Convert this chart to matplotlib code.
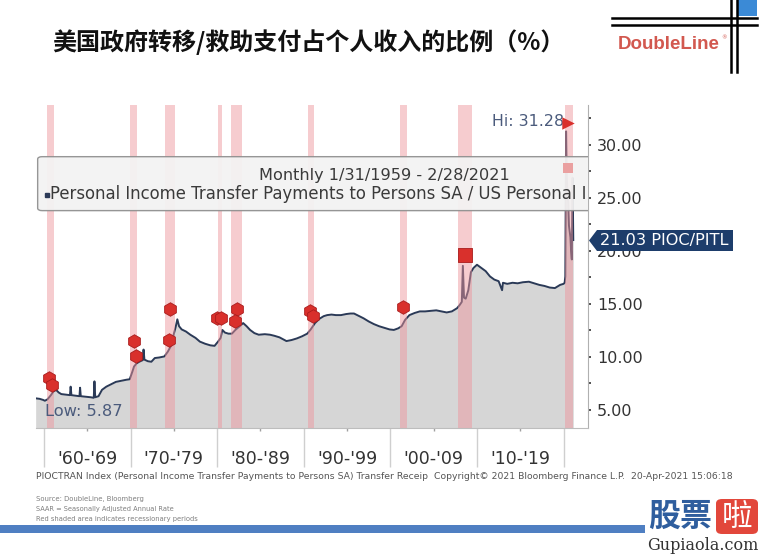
import matplotlib
matplotlib.use('Agg')
import matplotlib.pyplot as plt
import numpy as np
from matplotlib.patches import FancyBboxPatch, Rectangle, Polygon
from matplotlib.lines import Line2D

# ---------------- data ----------------
years = [1959.04, 1959.5, 1959.9, 1960.1, 1960.4, 1960.8, 1961.1, 1961.4, 1961.7, 1962.0,
         1962.5, 1963.0, 1963.08, 1963.17, 1963.6, 1964.1, 1964.17, 1964.25, 1964.8, 1965.4,
         1965.75, 1965.83, 1965.92, 1966.3, 1966.7, 1967.2, 1967.7, 1968.3, 1968.9, 1969.5,
         1969.9, 1970.2, 1970.4, 1970.7, 1971.0, 1971.4, 1971.5, 1971.6, 1972.0, 1972.4,
         1972.8, 1973.3, 1973.9, 1974.3, 1974.7, 1975.0, 1975.2, 1975.4, 1975.6, 1975.9,
         1976.4, 1976.9, 1977.5, 1978.0, 1978.6, 1979.2, 1979.7, 1980.1, 1980.4, 1980.6,
         1980.9, 1981.3, 1981.7, 1982.1, 1982.6, 1983.0, 1983.4, 1983.8, 1984.3, 1984.8,
         1985.5, 1986.1, 1986.6, 1987.2, 1988.0, 1988.6, 1989.2, 1989.8, 1990.4, 1990.8,
         1991.3, 1991.8, 1992.3, 1992.7, 1993.2, 1993.7, 1994.3, 1994.9, 1995.4, 1995.8,
         1996.3, 1996.9, 1997.5, 1998.1, 1998.7, 1999.3, 1999.9, 2000.4, 2000.9, 2001.3,
         2001.7, 2002.2, 2002.8, 2003.4, 2004.0, 2004.7, 2005.3, 2005.9, 2006.5, 2007.1,
         2007.7, 2008.0, 2008.25, 2008.37, 2008.5, 2008.7, 2009.0, 2009.3, 2009.6, 2010.0,
         2010.5, 2011.0, 2011.5, 2012.0, 2012.5, 2012.9, 2013.0, 2013.5, 2014.1, 2014.7,
         2015.3, 2016.0, 2016.6, 2017.2, 2017.8, 2018.4, 2019.0, 2019.6, 2020.0, 2020.12,
         2020.2, 2020.29, 2020.37, 2020.45, 2020.54, 2020.62, 2020.7, 2020.79, 2020.87, 2020.95,
         2021.04, 2021.12]
ratio = [6.1, 6.05, 5.95, 5.87, 6.0, 6.4, 6.75, 6.9, 6.65, 6.5,
         6.45, 6.4, 7.2, 6.4, 6.35, 6.3, 7.1, 6.3, 6.25, 6.2,
         6.15, 7.7, 6.2, 6.3, 6.9, 7.2, 7.4, 7.65, 7.75, 7.85,
         7.9, 8.6, 9.1, 9.4, 9.55, 9.7, 10.7, 9.75, 9.6, 9.55,
         9.9, 9.95, 10.05, 10.5, 11.1, 12.2, 12.8, 13.55, 12.9, 12.6,
         12.4, 12.1, 11.8, 11.45, 11.25, 11.1, 11.05, 11.45, 11.8, 12.55,
         12.3, 12.2, 12.2, 12.55, 12.9, 13.2, 12.9, 12.55, 12.25, 12.1,
         12.15, 12.1, 12.0, 11.85, 11.5, 11.6, 11.75, 11.95, 12.2, 12.6,
         13.2, 13.6, 13.85, 13.95, 14.0, 13.95, 13.95, 14.05, 14.1, 14.1,
         13.9, 13.65, 13.35, 13.1, 12.9, 12.75, 12.6, 12.55, 12.7, 12.9,
         13.5, 13.95, 14.15, 14.3, 14.3, 14.35, 14.4, 14.3, 14.2, 14.3,
         14.6, 14.9, 15.2, 18.6, 15.6, 15.5, 16.3, 18.0, 18.4, 18.7,
         18.4, 18.1, 17.6, 17.3, 17.15, 16.3, 17.0, 16.9, 17.0, 16.95,
         17.05, 17.1, 16.95, 16.8, 16.7, 16.55, 16.5, 16.8, 16.9, 17.0,
         17.6, 31.28, 27.0, 25.3, 24.5, 22.4, 21.9, 21.3, 20.0, 19.2,
         26.9, 21.03]

rec_start = [1960.3, 1969.95, 1973.95, 1980.08, 1981.55, 1990.5, 2001.1, 2007.8, 2020.15]
rec_end   = [1961.15, 1970.75, 1975.15, 1980.55, 1982.85, 1991.2, 2001.9, 2009.45, 2021.05]

event_x = [1960.6, 1960.9, 1970.4, 1970.62, 1974.55, 1974.47, 1980.0, 1980.45,
           1982.25, 1982.05, 1990.72, 1991.1, 2001.49]
event_y = [7.99, 7.36, 11.54, 10.09, 14.5, 11.6, 13.7, 13.7,
           14.5, 13.42, 14.37, 13.87, 14.69]
event2008 = (2008.6, 19.6)
hi_mark = (2020.5, 32.1)
pale_mark = (2020.47, 27.8)

decade_ticks = [1960, 1970, 1980, 1990, 2000, 2010, 2020]
decade_centers = [1965, 1975, 1985, 1995, 2005, 2015]
decade_labels = ["'60-'69", "'70-'79", "'80-'89", "'90-'99", "'00-'09", "'10-'19"]
ytick_vals = [5, 10, 15, 20, 25, 30]
ytick_labels = ["5.00", "10.00", "15.00", "20.00", "25.00", "30.00"]

title = "美国政府转移/救助支付占个人收入的比例（%）"
legend_title = "Monthly 1/31/1959 - 2/28/2021"
# the reference legend is cut off at the plot edge; only the visible part is shown
legend_series = "Personal Income Transfer Payments to Persons SA / US Personal I"
footer = ("PIOCTRAN Index (Personal Income Transfer Payments to Persons SA) Transfer Receip  "
          "Copyright\u00a9 2021 Bloomberg Finance L.P.  20-Apr-2021 15:06:18")
notes = ["Source: DoubleLine, Bloomberg",
         "SAAR = Seasonally Adjusted Annual Rate",
         "Red shaded area indicates recessionary periods"]

# ---------------- figure ----------------
W, H = 764, 556
fig = plt.figure(figsize=(W / 100, H / 100), dpi=100)
fig.patch.set_facecolor('white')
renderer = fig.canvas.get_renderer()

def fx(x):
    return x / W

def fy(y):
    return 1 - y / H

def fit(t, width_px):
    bb = t.get_window_extent(renderer)
    t.set_fontsize(t.get_fontsize() * width_px / bb.width)

L, R, T, B = 36, 588, 105, 428
ax = fig.add_axes([fx(L), fy(B), fx(R) - fx(L), fy(T) - fy(B)])
ax.set_xlim(1959.08, 2022.82)
ax.set_ylim(3.30, 33.77)
ax.set_facecolor('white')

ax.fill_between(years, ratio, 0, color='#d6d6d6', lw=0, zorder=1)
ax.plot(years, ratio, color='#2b3a57', lw=1.4, zorder=2)
for s, e in zip(rec_start, rec_end):
    ax.axvspan(s, e, color='#ee959c', alpha=0.48, lw=0, zorder=3)

ax.scatter(event_x, event_y, marker='h', s=95, color='#d9302c', edgecolor='#a81c1c',
           lw=0.6, zorder=8)
ax.scatter([event2008[0]], [event2008[1]], marker='s', s=110, color='#d9302c',
           edgecolor='#a81c1c', lw=0.6, zorder=8)
ax.scatter([hi_mark[0]], [hi_mark[1]], marker='>', s=80, color='#d9302c', lw=0, zorder=8)
ax.scatter([pale_mark[0]], [pale_mark[1]], marker='s', s=60, color='#eaa0a0', lw=0, zorder=8)

# spines
for sp in ['left', 'top']:
    ax.spines[sp].set_visible(False)
ax.spines['bottom'].set_color('#bdbdbd')
ax.spines['right'].set_color('#b0b0b0')

# y axis on right
ax.yaxis.tick_right()
ax.set_yticks(ytick_vals)
ax.set_yticklabels(ytick_labels)
ax.set_yticks(np.arange(5, 33, 2.5), minor=True)
ax.tick_params(axis='y', which='both', direction='out', length=2.5, width=1.2,
               color='#333333', labelcolor='#333333', labelsize=11.5, pad=4)

# x axis
ax.set_xticks(decade_ticks)
ax.set_xticklabels([''] * len(decade_ticks))
ax.set_xticks(decade_centers, minor=True)
ax.set_xticklabels(decade_labels, minor=True)
ax.tick_params(axis='x', which='major', direction='out', length=28, width=1, color='#cfcfcf')
ax.tick_params(axis='x', which='minor', direction='out', length=2.5, width=1, color='#a0a0a0',
               labelsize=12.5, labelcolor='#333333', pad=13)

# legend box (clipped at plot area)
box = FancyBboxPatch((0.003, 0.673), 1.4, 0.167, boxstyle='round,pad=0,rounding_size=0.008',
                     transform=ax.transAxes, fc='#f3f3f3', ec='#8e8e8e', lw=1.0,
                     alpha=0.93, zorder=6, clip_on=True)
ax.add_patch(box)
t1 = ax.text((384 - L) / (R - L), (B - 176) / (B - T), legend_title, transform=ax.transAxes,
             ha='center', va='center', fontsize=12, color='#3a3a3a', zorder=7)
fit(t1, 251)
t2 = ax.text((50 - L) / (R - L), (B - 194.5) / (B - T), legend_series, transform=ax.transAxes,
             ha='left', va='center', fontsize=12, color='#3a3a3a', zorder=7)
fit(t2, 535)
ax.plot([(46.5 - L) / (R - L)], [(B - 195) / (B - T)], marker='s', ms=3.2, color='#2b3a57',
        transform=ax.transAxes, zorder=7)

# Hi / Low annotations
th = ax.text((564 - L) / (R - L), (B - 122) / (B - T), "Hi: 31.28", transform=ax.transAxes,
             ha='right', va='center', fontsize=12, color='#4b5b7c', zorder=7)
fit(th, 72)
tl = ax.text((45 - L) / (R - L), (B - 411.5) / (B - T), "Low: 5.87", transform=ax.transAxes,
             ha='left', va='center', fontsize=14, color='#4b5b7c', zorder=7)
fit(tl, 78)

# last value tag
tag = Polygon([[fx(589), fy(240.5)], [fx(597), fy(230)], [fx(733), fy(230)],
               [fx(733), fy(251)], [fx(597), fy(251)]], closed=True,
              transform=fig.transFigure, fc='#1d3d6b', ec='none', zorder=10)
fig.add_artist(tag)
tt = fig.text(fx(600), fy(240.5), "21.03 PIOC/PITL", ha='left', va='center',
              fontsize=12, color='white', zorder=11)
fit(tt, 128)

# title
tti = fig.text(fx(52), fy(42), title, ha='left', va='center', fontsize=17, fontweight='bold',
               family=['Noto Sans CJK SC', 'DejaVu Sans'], color='#111111')
fit(tti, 514)

# DoubleLine logo
for yy in (18, 25):
    fig.add_artist(Line2D([fx(612), fx(757)], [fy(yy), fy(yy)], color='black', lw=1.8,
                          transform=fig.transFigure))
fig.add_artist(Rectangle((fx(737.5), fy(16)), fx(757) - fx(737.5), fy(0) - fy(16),
                         transform=fig.transFigure, fc='#3b8ad6', ec='none'))
for xx in (731, 737):
    fig.add_artist(Line2D([fx(xx), fx(xx)], [fy(0), fy(72)], color='black', lw=1.8,
                          transform=fig.transFigure))
tdl = fig.text(fx(618), fy(45), "DoubleLine", ha='left', va='center', fontsize=13,
               fontweight='bold', family='Liberation Sans', color='#d2584f')
fit(tdl, 102)
fig.text(fx(721), fy(38), "\u00ae", ha='left', va='center', fontsize=4, color='#d2584f')

# footer
tf = fig.text(fx(36), fy(476.5), footer, ha='left', va='center', fontsize=8, color='#555555')
fit(tf, 697)
note_w = [109, 140, 164]
for i, (n, w) in enumerate(zip(notes, note_w)):
    tn = fig.text(fx(36), fy(498.5 + 10 * i), n, ha='left', va='center', fontsize=6,
                  color='#7f7f7f')
    fit(tn, w)

# bottom bar
fig.add_artist(Rectangle((fx(0), fy(533)), fx(645), fy(525) - fy(533),
                         transform=fig.transFigure, fc='#4f7fc2', ec='none'))

# watermark
tg = fig.text(fx(648), fy(517), "股票", ha='left', va='center', fontsize=23, fontweight='bold',
              family=['Noto Sans CJK SC', 'DejaVu Sans'], color='#2f5e9e')
fit(tg, 64)
fig.add_artist(FancyBboxPatch((fx(716), fy(534)), fx(758) - fx(716), fy(499) - fy(534),
                              boxstyle='round,pad=0,rounding_size=0.008',
                              transform=fig.transFigure, fc='#e2473b', ec='none'))
tla = fig.text(fx(737), fy(517), "啦", ha='center', va='center', fontsize=22,
               family=['Noto Sans CJK SC', 'DejaVu Sans'], color='white')
tgu = fig.text(fx(647), fy(545), "Gupiaola.com", ha='left', va='center', fontsize=11,
               family='DejaVu Serif', color='#333333')
fit(tgu, 111)

fig.savefig('out.png', dpi=100, facecolor='white')
